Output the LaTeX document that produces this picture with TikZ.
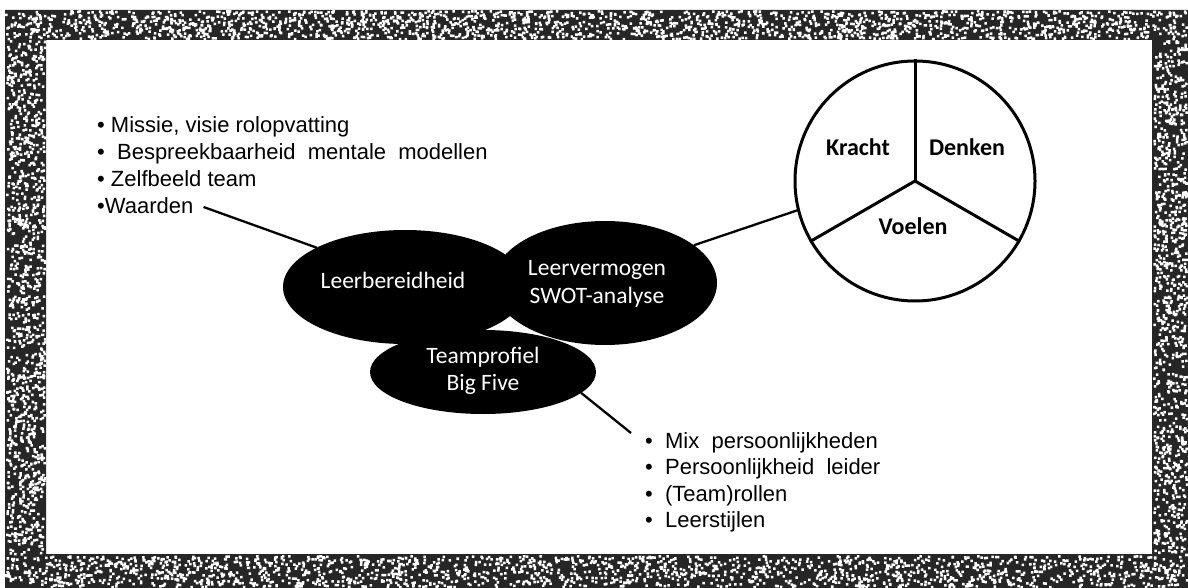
\documentclass[tikz,border=0pt]{standalone}
\usepackage{fontspec}
\setmainfont{Liberation Sans}
\newfontfamily\carlito{Carlito}
\usetikzlibrary{shapes.geometric}
\begin{document}
\begin{tikzpicture}[x=1pt,y=-1pt,
  blob/.style={ellipse, fill=black, inner sep=0pt, outer sep=0pt},
  etext/.style={font=\carlito\fontsize{23.5}{28}\selectfont, text=white, anchor=base, inner sep=0pt},
  ltext/.style={font=\fontsize{22}{26}\selectfont, anchor=base west, inner sep=0pt},
  ptext/.style={font=\carlito\bfseries\fontsize{24}{28}\selectfont, anchor=base, inner sep=0pt},
  conn/.style={line width=2.3pt},
  speck/.style={fill=white}]
\useasboundingbox (0,0) rectangle (1188,588);
\fill[white] (0,0) rectangle (1188,588);
% noisy scanned frame
\fill[black!85, even odd rule] (5,10) rectangle (1188,588) (46,40) rectangle (1152,554);
\pgfmathsetseed{7}
\fill[speck] \foreach \i in {1,...,2000} { ({5+1181*rnd},{10+28*rnd}) rectangle ++(2.5,2.5) };
\fill[speck] \foreach \i in {1,...,1900} { ({5+1181*rnd},{555+31*rnd}) rectangle ++(2.5,2.5) };
\fill[speck] \foreach \i in {1,...,1100} { ({6+38*rnd},{40+514*rnd}) rectangle ++(2.5,2.5) };
\fill[speck] \foreach \i in {1,...,950} { ({1153+33*rnd},{40+514*rnd}) rectangle ++(2.5,2.5) };

% black blobs
\node[blob, minimum width=226, minimum height=84] (tp) at (483,372) {};
\node[blob, minimum width=224, minimum height=124] (lv) at (605,283) {};
\node[blob, minimum width=244, minimum height=114] (lb) at (405,287) {};

\node[etext] (lbt) at (393,288) {Leerbereidheid};
\node[etext] (lvt1) at (597,275) {Leervermogen};
\node[etext] (lvt2) at (597,303) {SWOT-analyse};
\node[etext] (tpt1) at (483,363) {Teamprofiel};
\node[etext] (tpt2) at (483,390) {Big Five};

% pie
\node[circle, draw, line width=3pt, minimum size=240, inner sep=0pt] (pie) at (915,181) {};
\draw[line width=3pt] (pie.center) -- (pie.90);
\draw[line width=3pt] (pie.center) -- (pie.210);
\draw[line width=3pt] (pie.center) -- (pie.330);
\node[ptext] (kr) at (858,156) {Kracht};
\node[ptext] (de) at (967,156) {Denken};
\node[ptext] (vo) at (913,234) {Voelen};

% lists
\node[ltext] (t1) at (97,133) {• Missie, visie rolopvatting};
\node[ltext] (t2) at (97,160) {•\ \ Bespreekbaarheid\ \ mentale\ \ modellen};
\node[ltext] (t3) at (97,186.5) {• Zelfbeeld team};
\node[ltext] (t4) at (97,213) {•Waarden};

\node[ltext] (b1) at (645,448) {•\ \ Mix\ \ persoonlijkheden};
\node[ltext] (b2) at (645,474.5) {•\ \ Persoonlijkheid\ \ leider};
\node[ltext] (b3) at (645,501) {•\ \ (Team)rollen};
\node[ltext] (b4) at (645,527.5) {•\ \ Leerstijlen};

% connectors
\draw[conn] ([xshift=10pt,yshift=6pt]t4.base east) -- (lb.156);
\draw[conn] (pie.194) -- (lv.23);
\draw[conn] (tp.-12) -- ([xshift=-14pt,yshift=15pt]b1.base west);
\end{tikzpicture}
\end{document}
